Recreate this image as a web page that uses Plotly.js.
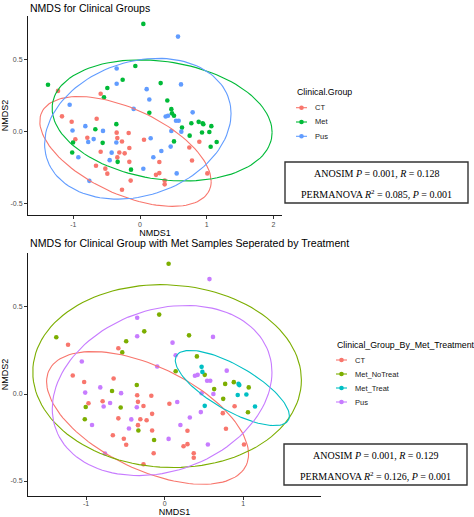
<!DOCTYPE html>
<html><head><meta charset="utf-8">
<script src="https://cdn.plot.ly/plotly-3.0.1.min.js"></script>
<style>html,body{margin:0;padding:0;background:#fff}#chart{width:474px;height:517px}</style>
</head><body><div id="chart"></div>
<script>
// ---------------- data (NMDS scores) ----------------
const ctX = [-1.23, -0.59, -1.17, -0.65, -1.025, -0.35, -0.17, -0.79, -0.97, -0.34, -0.27, 0.06, -0.59, -0.31, -0.23, -0.16, -0.34, -0.16, -0.66, -0.52, -0.49, -0.14, -0.27, 0.89, 0.74, 0.78, 0.29, 1.01, 0.29, 0.24, 0.37, 0.37];
const ctY = [0.283, 0.263, 0.106, 0.089, 0.069, -0.007, -0.01, -0.042, -0.053, -0.045, -0.069, -0.056, -0.14, -0.145, -0.151, -0.114, -0.179, -0.21, -0.237, -0.257, -0.292, -0.34, -0.404, -0.07, -0.11, -0.2, -0.211, -0.29, -0.288, -0.3, -0.34, -0.366];

const metNoTreatX = [0.05, -1.38, -0.07, -0.26, -0.49, -0.54, 0.31, 0.41, 0.51, 0.14, 0.63, 0.77, 0.88, 1.07, 0.745, 1.06, -0.355, -0.67, -1.005, -0.56, -1.017, -0.335, -0.135];
const metNoTreatY = [0.748, 0.326, 0.456, 0.36, 0.303, 0.239, 0.337, 0.216, 0.11, 0.131, 0.028, 0.058, 0.068, 0.038, -0.028, -0.105, 0.052, 0.017, -0.075, -0.078, -0.145, -0.21, -0.264];

const metTreatX = [0.47, 0.48, 0.94, 0.95, 0.93, 1.04, 0.51, 1.15];
const metTreatY = [0.156, 0.127, 0.058, 0.051, -0.006, -0.003, -0.068, -0.072];

const pusX = [0.57, -0.35, -0.35, 0.10, 0.14, -1.055, -0.095, 0.615, 0.385, 0.42, 0.54, 0.58, 0.79, 0.47, 0.62, 0.46, 0.32, 0.2, 0.55, -0.82, -1.012, -0.555, -0.777, -0.695, -0.355, -0.425, -0.925, -0.455, 0.05, -0.76, 0.16];
const pusY = [0.66, 0.438, 0.332, 0.295, 0.223, 0.187, 0.158, 0.328, 0.105, 0.11, 0.076, 0.076, 0.134, 0.004, 0.0, -0.104, -0.135, -0.178, -0.29, 0.038, 0.008, 0.005, -0.072, -0.052, -0.076, -0.146, -0.178, -0.198, -0.258, -0.342, -0.046];

const topGroups = ['CT', 'Met', 'Pus'];
const topColors = ['#F8766D', '#00BA38', '#619CFF'];
const bottomGroups = ['CT', 'Met_NoTreat', 'Met_Treat', 'Pus'];
const bottomColors = ['#F8766D', '#7CAE00', '#00BFC4', '#C77CFF'];

const xTickValsTop = [-1, 0, 1, 2];
const xTickTextTop = ['-1', '0', '1', '2'];
const xTickValsBottom = [-1, 0, 1];
const xTickTextBottom = ['-1', '0', '1'];
const yTickVals = [-0.5, 0, 0.5];
const yTickText = ['-0.5', '0.0', '0.5'];

const titleTop = 'NMDS for Clinical Groups';
const titleBottom = 'NMDS for Clinical Group with Met Samples Seperated by Treatment';
const legendTitleTop = 'Clinical.Group';
const legendTitleBottom = 'Clinical_Group_By_Met_Treatment';
const statsTop = ['ANOSIM <i>P</i> = 0.001, <i>R</i> = 0.128', 'PERMANOVA <i>R</i><sup>2</sup> = 0.085, <i>P</i> = 0.001'];
const statsBottom = ['ANOSIM <i>P</i> = 0.001, <i>R</i> = 0.129', 'PERMANOVA <i>R</i><sup>2</sup> = 0.126, <i>P</i> = 0.001'];

// ---------------- stat_ellipse (type = "t", level = 0.95) ----------------
function covTrob(xs, ys) {
  const n = xs.length, nu = 5, p = 2;
  let lx = xs.reduce((a, b) => a + b, 0) / n, ly = ys.reduce((a, b) => a + b, 0) / n;
  let w = new Array(n).fill(1);
  let dx = [], dy = [];
  for (let it = 0; it < 25; it++) {
    const w0 = w.slice();
    dx = xs.map(v => v - lx); dy = ys.map(v => v - ly);
    const sw = w.reduce((a, b) => a + b, 0);
    let sxx = 0, sxy = 0, syy = 0;
    for (let i = 0; i < n; i++) { sxx += w[i] * dx[i] * dx[i]; sxy += w[i] * dx[i] * dy[i]; syy += w[i] * dy[i] * dy[i]; }
    sxx /= sw; sxy /= sw; syy /= sw;
    const det = sxx * syy - sxy * sxy;
    w = dx.map((d, i) => {
      const q = (syy * d * d - 2 * sxy * d * dy[i] + sxx * dy[i] * dy[i]) / det;
      return (nu + p) / (nu + q);
    });
    const sw2 = w.reduce((a, b) => a + b, 0);
    lx = 0; ly = 0;
    for (let i = 0; i < n; i++) { lx += w[i] * xs[i]; ly += w[i] * ys[i]; }
    lx /= sw2; ly /= sw2;
    let conv = true;
    for (let i = 0; i < n; i++) if (Math.abs(w[i] - w0[i]) >= 0.01) conv = false;
    if (conv) break;
  }
  let cxx = 0, cxy = 0, cyy = 0;
  for (let i = 0; i < n; i++) { cxx += w[i] * dx[i] * dx[i]; cxy += w[i] * dx[i] * dy[i]; cyy += w[i] * dy[i] * dy[i]; }
  return { cx: lx, cy: ly, cxx: cxx / n, cxy: cxy / n, cyy: cyy / n };
}
function ellipse(xs, ys) {
  const c = covTrob(xs, ys);
  const m = xs.length - 1;
  const fq = (m / 2) * (Math.pow(0.05, -2 / m) - 1);
  const r = Math.sqrt(2 * fq);
  const a = Math.sqrt(c.cxx), b = c.cxy / a, d = Math.sqrt(c.cyy - b * b);
  const ex = [], ey = [];
  const seg = 120;
  for (let k = 0; k <= seg; k++) {
    const t = 2 * Math.PI * k / seg, u = Math.cos(t), v = Math.sin(t);
    ex.push(c.cx + r * u * a);
    ey.push(c.cy + r * (u * b + v * d));
  }
  return { x: ex, y: ey };
}

// ---------------- traces ----------------
const topData = [[ctX, ctY], [metNoTreatX.concat(metTreatX), metNoTreatY.concat(metTreatY)], [pusX, pusY]];
const bottomData = [[ctX, ctY], [metNoTreatX, metNoTreatY], [metTreatX, metTreatY], [pusX, pusY]];
const traces = [];
function addPanel(data, names, colors, xa, ya) {
  data.forEach((g, i) => {
    traces.push({ type: 'scatter', mode: 'markers', x: g[0], y: g[1], name: names[i], xaxis: xa, yaxis: ya,
      marker: { color: colors[i], size: 4.6, line: { width: 0 } }, showlegend: false, hoverinfo: 'x+y+name' });
  });
  data.forEach((g, i) => {
    const e = ellipse(g[0], g[1]);
    traces.push({ type: 'scatter', mode: 'lines', x: e.x, y: e.y, name: names[i], xaxis: xa, yaxis: ya,
      line: { color: colors[i], width: 1.1 }, showlegend: false, hoverinfo: 'skip' });
  });
}
addPanel(topData, topGroups, topColors, 'x', 'y');
addPanel(bottomData, bottomGroups, bottomColors, 'x2', 'y2');

// ---------------- layout ----------------
const W = 474, H = 517;
const px = v => v / W, py = v => 1 - v / H;
function axis(extra) {
  return Object.assign({ showgrid: false, zeroline: false, showline: true, linecolor: '#1a1a1a', linewidth: 1,
    ticks: 'outside', ticklen: 3, tickwidth: 1, tickcolor: '#333', tickmode: 'array',
    tickfont: { size: 7, color: '#4d4d4d', family: 'Liberation Sans, Arial, sans-serif' }, fixedrange: true }, extra);
}
const axTitleFont = { size: 9, color: '#000', family: 'Liberation Sans, Arial, sans-serif' };

const annotations = [];
const shapes = [];
function text(x, y, t, size, opts) {
  annotations.push(Object.assign({ xref: 'paper', yref: 'paper', x: px(x), y: py(y), text: t, showarrow: false,
    xanchor: 'left', yanchor: 'middle', font: { size: size, color: '#000', family: 'Liberation Sans, Arial, sans-serif' } }, opts || {}));
}
text(28, 8, titleTop, 10.5);
text(28, 243, titleBottom, 10.6);

function legend(x0, yTitle, y0, step, title, names, colors) {
  text(x0 - 1, yTitle, title, 8.8);
  names.forEach((nm, i) => {
    const y = y0 + i * step;
    shapes.push({ type: 'line', xref: 'paper', yref: 'paper', x0: px(x0), x1: px(x0 + 11), y0: py(y), y1: py(y), line: { color: colors[i], width: 1.1 } });
    shapes.push({ type: 'circle', xref: 'paper', yref: 'paper', x0: px(x0 + 5.5 - 2.3), x1: px(x0 + 5.5 + 2.3), y0: py(y - 2.3), y1: py(y + 2.3), fillcolor: colors[i], line: { width: 0 } });
    text(x0 + 16.5, y, nm, 7.5, { font: { size: 7.5, color: '#1a1a1a', family: 'Liberation Sans, Arial, sans-serif' } });
  });
}
legend(296, 92.5, 107.7, 14.3, legendTitleTop, topGroups, topColors);
legend(336, 345, 360, 14, legendTitleBottom, bottomGroups, bottomColors);

function statBox(x0, x1, y0, y1, lines) {
  shapes.push({ type: 'rect', xref: 'paper', yref: 'paper', x0: px(x0), x1: px(x1), y0: py(y1), y1: py(y0), fillcolor: '#fff', line: { color: '#333', width: 1.4 } });
  const cx = (x0 + x1) / 2, h = y1 - y0;
  [y0 + h * 0.27, y0 + h * 0.79].forEach((y, i) => {
    text(cx, y, lines[i], 10, { xanchor: 'center', font: { size: 10, color: '#000', family: 'Liberation Serif, Times New Roman, serif' } });
  });
}
statBox(285, 468, 162, 203, statsTop);
statBox(284, 467, 444, 485, statsBottom);

const layout = {
  width: W, height: H, margin: { l: 0, r: 0, t: 0, b: 0 },
  paper_bgcolor: '#fff', plot_bgcolor: '#fff', showlegend: false,
  font: { family: 'Liberation Sans, Arial, sans-serif' },
  xaxis: axis({ domain: [px(28), px(282)], range: [-1.68, 2.13], anchor: 'y', tickvals: xTickValsTop, ticktext: xTickTextTop,
    title: { text: 'NMDS1', font: axTitleFont, standoff: 1 } }),
  yaxis: axis({ domain: [py(215), py(16)], range: [-0.579, 0.803], anchor: 'x', tickvals: yTickVals, ticktext: yTickText,
    title: { text: 'NMDS2', font: axTitleFont, standoff: 2 } }),
  xaxis2: axis({ domain: [px(28), px(321)], range: [-1.74, 1.99], anchor: 'y2', tickvals: xTickValsBottom, ticktext: xTickTextBottom,
    ticklabelstandoff: -2, title: { text: 'NMDS1', font: axTitleFont, standoff: 2.5 } }),
  yaxis2: axis({ domain: [py(496), py(253)], range: [-0.586, 0.81], anchor: 'x2', tickvals: yTickVals, ticktext: yTickText,
    title: { text: 'NMDS2', font: axTitleFont, standoff: 2 } }),
  annotations: annotations, shapes: shapes
};
Plotly.newPlot('chart', traces, layout, { displayModeBar: false, staticPlot: true });
</script></body></html>
